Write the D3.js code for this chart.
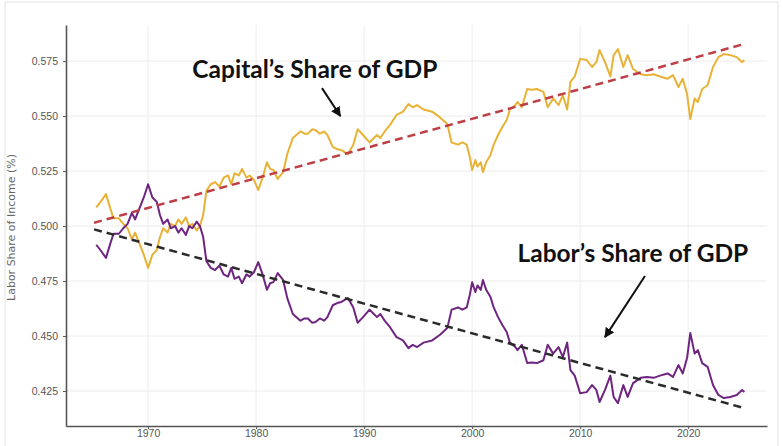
<!DOCTYPE html>
<html>
<head>
<meta charset="utf-8">
<script src="https://cdn.jsdelivr.net/npm/d3@7"></script>
<style>
  html, body { margin: 0; padding: 0; height: 100%; overflow: hidden; background: #fff; }
  svg { display: block; width: 100vw; height: 100vh; font-family: "DejaVu Sans", sans-serif; }
  .grid line { stroke: #ececec; stroke-width: 1; }
  .axis path, .axis line { stroke: #555; }
  .axis text { fill: #555; font-size: 10.5px; }
  .note { font-family: Lato, sans-serif; font-weight: 700; font-size: 24.5px; fill: #111; }
</style>
</head>
<body>
<svg viewBox="0 0 783 446"></svg>
<script>
const svg = d3.select('svg');
const width = 783;
const height = 446;

// readings by decade (fractional years)
const years = [
  1965.2, 1965.6, 1966.1, 1966.5, 1966.8, 1967.3, 1967.7, 1968.1, 1968.5, 1968.8, 1969.2, 1969.6,
  1970.0, 1970.4, 1970.8, 1971.1, 1971.4, 1971.8, 1972.1, 1972.5, 1972.8, 1973.1, 1973.5, 1973.8, 1974.1, 1974.5, 1974.8,
  1975.1, 1975.4, 1975.8, 1976.2, 1976.6, 1977.0, 1977.4, 1977.7, 1978.0, 1978.4, 1978.7, 1979.1, 1979.4, 1979.8,
  1980.2, 1980.6, 1981.0, 1981.3, 1981.6, 1982.0, 1982.5, 1982.9, 1983.4, 1984.1, 1984.5, 1984.8,
  1985.2, 1985.5, 1985.9, 1986.3, 1986.6, 1987.1, 1987.5, 1987.9, 1988.5, 1989.0, 1989.4, 1989.9,
  1990.5, 1990.9, 1991.2, 1991.5, 1991.9, 1992.4, 1993.0, 1993.6, 1994.1, 1994.5,
  1994.9, 1995.5, 1996.3, 1997.0, 1997.7, 1998.1, 1998.7, 1999.1, 1999.5, 1999.8,
  2000.0, 2000.3, 2000.5, 2000.8, 2001.0, 2001.3, 2001.7, 2002.0, 2002.4, 2002.8, 2003.2, 2003.5, 2004.0,
  2004.2, 2004.6, 2005.1, 2005.5, 2006.0, 2006.6, 2007.0, 2007.5, 2008.0, 2008.4, 2008.8, 2009.1, 2009.5,
  2010.0, 2010.6, 2011.1, 2011.5, 2011.8, 2012.3, 2012.8, 2013.1, 2013.5, 2014.0, 2014.4,
  2014.9, 2015.6, 2016.2, 2016.8, 2017.4, 2018.1, 2018.6, 2019.1, 2019.5, 2019.9,
  2020.2, 2020.6, 2020.9, 2021.3, 2021.8, 2022.3, 2022.8, 2023.3, 2023.9, 2024.5, 2025.0, 2025.2
];

const laborShare = [
  0.4915, 0.489, 0.4855, 0.492, 0.4965, 0.4965, 0.499, 0.501, 0.506, 0.503, 0.508, 0.513,
  0.519, 0.513, 0.511, 0.505, 0.501, 0.503, 0.499, 0.500, 0.497, 0.499, 0.496, 0.500, 0.499, 0.502, 0.500,
  0.495, 0.484, 0.481, 0.480, 0.482, 0.478, 0.477, 0.481, 0.476, 0.477, 0.474, 0.478, 0.477, 0.479,
  0.4836, 0.478, 0.471, 0.474, 0.4745, 0.4786, 0.4755, 0.467, 0.460, 0.457, 0.458, 0.458,
  0.456, 0.4564, 0.458, 0.457, 0.4586, 0.464, 0.465, 0.4655, 0.4673, 0.463, 0.456, 0.4586,
  0.462, 0.460, 0.4586, 0.460, 0.457, 0.454, 0.4495, 0.448, 0.4445, 0.446,
  0.445, 0.447, 0.448, 0.4505, 0.4536, 0.462, 0.463, 0.462, 0.463, 0.469,
  0.4745, 0.470, 0.473, 0.471, 0.4755, 0.471, 0.4677, 0.463, 0.4586, 0.455, 0.4518, 0.447, 0.445,
  0.4436, 0.446, 0.4377, 0.438, 0.4377, 0.439, 0.446, 0.442, 0.445, 0.4405, 0.447, 0.4345, 0.432,
  0.424, 0.4245, 0.4277, 0.4255, 0.420, 0.4255, 0.432, 0.4223, 0.4195, 0.4277, 0.4223,
  0.4286, 0.431, 0.4314, 0.431, 0.432, 0.433, 0.4314, 0.4368, 0.433, 0.440,
  0.4514, 0.442, 0.4436, 0.4377, 0.436, 0.4277, 0.4232, 0.4218, 0.4223, 0.4232, 0.4255, 0.4245
];

const capitalShare = [
  0.5085, 0.511, 0.5145, 0.508, 0.5035, 0.5035, 0.501, 0.499, 0.494, 0.497, 0.492, 0.487,
  0.481, 0.487, 0.489, 0.495, 0.499, 0.497, 0.501, 0.500, 0.503, 0.501, 0.504, 0.500, 0.501, 0.498, 0.500,
  0.505, 0.516, 0.519, 0.520, 0.518, 0.522, 0.523, 0.519, 0.524, 0.523, 0.526, 0.522, 0.523, 0.521,
  0.5164, 0.522, 0.529, 0.526, 0.5255, 0.5214, 0.5245, 0.533, 0.540, 0.543, 0.542, 0.542,
  0.544, 0.5436, 0.542, 0.543, 0.5414, 0.536, 0.535, 0.5345, 0.5327, 0.537, 0.544, 0.5414,
  0.538, 0.540, 0.5414, 0.540, 0.543, 0.546, 0.5505, 0.552, 0.5555, 0.554,
  0.555, 0.553, 0.552, 0.5495, 0.5464, 0.538, 0.537, 0.538, 0.537, 0.531,
  0.5255, 0.530, 0.527, 0.529, 0.5245, 0.529, 0.5323, 0.537, 0.5414, 0.545, 0.5482, 0.553, 0.555,
  0.5564, 0.554, 0.5623, 0.562, 0.5623, 0.561, 0.554, 0.558, 0.555, 0.5595, 0.553, 0.5655, 0.568,
  0.576, 0.5755, 0.5723, 0.5745, 0.580, 0.5745, 0.568, 0.5777, 0.5805, 0.5723, 0.5777,
  0.5714, 0.569, 0.5686, 0.569, 0.568, 0.567, 0.5686, 0.5632, 0.567, 0.560,
  0.5486, 0.558, 0.5564, 0.5623, 0.564, 0.5723, 0.5768, 0.5782, 0.5777, 0.5768, 0.5745, 0.5755
];

// linear trend end points
const trendYears = [1965, 2025];
const capitalTrend = [0.5015, 0.5825];
const laborTrend = [0.4985, 0.4175];

const xTicks = [1970, 1980, 1990, 2000, 2010, 2020];
const yTicks = [0.425, 0.450, 0.475, 0.500, 0.525, 0.550, 0.575];

const notes = [
  { text: 'Capital’s Share of GDP', x: 1974.1, y: 0.5673, from: [1986.1, 0.5627], to: [1987.8, 0.5500] },
  { text: 'Labor’s Share of GDP', x: 2004.2, y: 0.4836, from: [2016.0, 0.4773], to: [2012.3, 0.4495] }
];

const margin = { top: 25, right: 16, bottom: 20, left: 66 };
const innerWidth = width - margin.left - margin.right;
const innerHeight = height - margin.top - margin.bottom;

const xScale = d3.scaleLinear().domain([1962.4, 2027.3]).range([0, innerWidth]);
const yScale = d3.scaleLinear().domain([0.4091, 0.5914]).range([innerHeight, 0]);

// faint frame edges (left, top, right) round the picture
svg.append('path')
  .attr('d', `M5,${height} V2 H${width - 5} V${height}`)
  .attr('fill', 'none').attr('stroke', '#e2e2e2');

const g = svg.append('g')
  .attr('transform', `translate(${margin.left},${margin.top})`);

// grid
g.append('g').attr('class', 'grid')
  .selectAll('line').data(xTicks).enter().append('line')
    .attr('x1', d => xScale(d)).attr('x2', d => xScale(d))
    .attr('y1', 0).attr('y2', innerHeight);
g.append('g').attr('class', 'grid')
  .selectAll('line').data(yTicks).enter().append('line')
    .attr('y1', d => yScale(d)).attr('y2', d => yScale(d))
    .attr('x1', 0).attr('x2', innerWidth);

// axes
const xAxisG = g.append('g').attr('class', 'axis')
  .attr('transform', `translate(0,${innerHeight})`)
  .call(d3.axisBottom(xScale).tickValues(xTicks).tickFormat(d3.format('d')).tickSize(3).tickSizeOuter(0).tickPadding(1));
const yAxisG = g.append('g').attr('class', 'axis')
  .call(d3.axisLeft(yScale).tickValues(yTicks).tickFormat(d3.format('.3f')).tickSize(3).tickSizeOuter(0).tickPadding(5));
xAxisG.select('.domain').attr('stroke-width', 1.6);
yAxisG.select('.domain').attr('stroke-width', 1.6);

svg.append('text')
  .attr('transform', `translate(15,${margin.top + innerHeight / 2 + 2}) rotate(-90)`)
  .attr('text-anchor', 'middle')
  .attr('fill', '#666')
  .attr('font-size', 11)
  .text('Labor Share of Income (%)');

// series
const line = d3.line()
  .x(d => xScale(d[0]))
  .y(d => yScale(d[1]));

g.append('path')
  .datum(d3.zip(years, capitalShare))
  .attr('fill', 'none')
  .attr('stroke', '#e8b236')
  .attr('stroke-width', 2)
  .attr('stroke-linejoin', 'round')
  .attr('d', line);

g.append('path')
  .datum(d3.zip(years, laborShare))
  .attr('fill', 'none')
  .attr('stroke', '#6e2580')
  .attr('stroke-width', 2)
  .attr('stroke-linejoin', 'round')
  .attr('d', line);

g.append('path')
  .datum(d3.zip(trendYears, capitalTrend))
  .attr('fill', 'none')
  .attr('stroke', '#bd3f45')
  .attr('stroke-width', 2.5)
  .attr('stroke-dasharray', '8,5')
  .attr('d', line);

g.append('path')
  .datum(d3.zip(trendYears, laborTrend))
  .attr('fill', 'none')
  .attr('stroke', '#2b2b2b')
  .attr('stroke-width', 2.5)
  .attr('stroke-dasharray', '8,5')
  .attr('d', line);

// annotations
svg.append('defs').append('marker')
  .attr('id', 'head')
  .attr('viewBox', '0 0 10 10')
  .attr('refX', 9).attr('refY', 5)
  .attr('markerWidth', 5).attr('markerHeight', 5)
  .attr('orient', 'auto')
  .append('path').attr('d', 'M0,0 L10,5 L0,10 z').attr('fill', '#111');

const noteG = g.selectAll('.noteG').data(notes).enter().append('g');
noteG.append('text')
  .attr('class', 'note')
  .attr('x', d => xScale(d.x))
  .attr('y', d => yScale(d.y))
  .text(d => d.text);
noteG.append('line')
  .attr('x1', d => xScale(d.from[0])).attr('y1', d => yScale(d.from[1]))
  .attr('x2', d => xScale(d.to[0])).attr('y2', d => yScale(d.to[1]))
  .attr('stroke', '#111')
  .attr('stroke-width', 2)
  .attr('marker-end', 'url(#head)');
</script>
</body>
</html>
